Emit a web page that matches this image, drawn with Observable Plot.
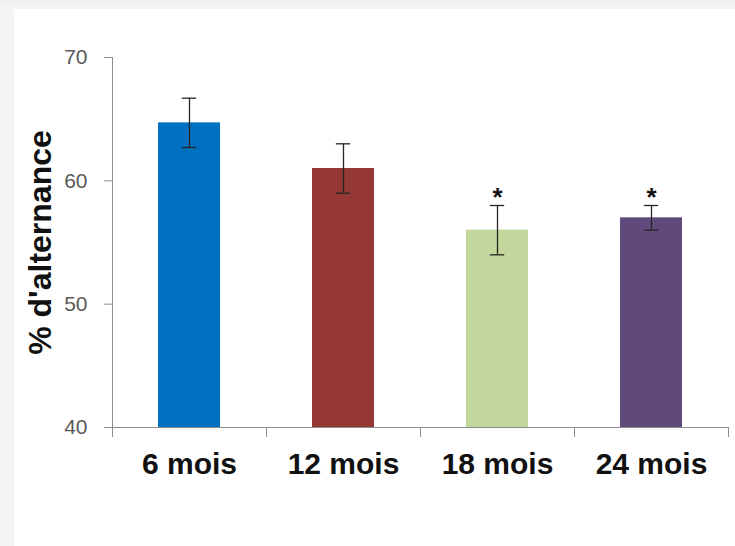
<!DOCTYPE html>
<html>
<head>
<meta charset="utf-8">
<script src="https://cdn.jsdelivr.net/npm/d3@7"></script>
<script src="https://cdn.jsdelivr.net/npm/@observablehq/plot@0.6"></script>
<style>
  html, body { margin: 0; padding: 0; background: #f3f3f3; }
  #wrap { width: 735px; height: 546px; box-sizing: border-box; padding: 9px 0 0 14px;
          background: linear-gradient(to bottom, #eeeeee 0px, #f4f4f4 9px, #f4f4f4 100%); overflow: hidden; }
  #chart svg { background: #ffffff; display: block; }
</style>
</head>
<body>
<div id="wrap"><div id="chart"></div></div>
<script>
const categories = ["6 mois", "12 mois", "18 mois", "24 mois"];
const values = [64.7, 61, 56, 57];
const errors = [2, 2, 2, 1];
const significant = [false, false, true, true];
const barColors = ["#0070C0", "#953735", "#C3D69B", "#604A7B"];
const yTicks = [40, 50, 60, 70];
const yLabel = "% d'alternance";
const starLabel = "*";

const data = categories.map((c, i) => ({cat: c, value: values[i], err: errors[i], sig: significant[i]}));

const W = 721, H = 537;
const mL = 98, mR = 7, mT = 48, mB = 119;
const step = (W - mL - mR) / categories.length;
const bandwidth = step * 0.4;
const capInset = (bandwidth - 14) / 2;
const frameH = H - mT - mB;
const font = "'Liberation Sans', Arial, sans-serif";

const chart = Plot.plot({
  width: W,
  height: H,
  marginLeft: mL,
  marginRight: mR,
  marginTop: mT,
  marginBottom: mB,
  style: {fontFamily: font, background: "#ffffff"},
  x: {domain: categories, paddingInner: 0.6, paddingOuter: 0.3, axis: null, label: null},
  y: {domain: [40, 70], axis: null, label: null},
  color: {domain: categories, range: barColors},
  marks: [
    Plot.barY(data, {x: "cat", y1: 40, y2: "value", fill: "cat"}),
    Plot.ruleX(data, {x: "cat", y1: d => d.value - d.err, y2: d => d.value + d.err, stroke: "#262626", strokeWidth: 1.3}),
    Plot.tickY(data, {x: "cat", y: d => d.value + d.err, stroke: "#262626", strokeWidth: 1.3, insetLeft: capInset, insetRight: capInset}),
    Plot.tickY(data, {x: "cat", y: d => d.value - d.err, stroke: "#262626", strokeWidth: 1.3, insetLeft: capInset, insetRight: capInset}),
    Plot.text(data.filter(d => d.sig), {x: "cat", y: d => d.value + d.err, text: () => starLabel, fontSize: 26, fontWeight: "bold", fill: "#111", lineAnchor: "middle", dy: -8}),
    Plot.frame({anchor: "left", stroke: "#8e8e8e"}),
    Plot.ruleY([40], {stroke: "#8e8e8e"}),
    Plot.ruleX(categories, {x: d => d, dx: -step / 2, insetTop: frameH, insetBottom: -10, stroke: "#8e8e8e"}),
    Plot.ruleX(categories.slice(-1), {x: d => d, dx: step / 2, insetTop: frameH, insetBottom: -10, stroke: "#8e8e8e"}),
    Plot.axisY({ticks: yTicks, label: null, tickSize: 8, tickPadding: 17, fontSize: 21, stroke: "#8e8e8e", fill: "#595959", tickFormat: d => String(d)}),
    Plot.axisX({label: null, tickSize: 0, tickPadding: 25, fontSize: 30, fontWeight: "bold", fill: "#111"}),
    Plot.text([yLabel], {frameAnchor: "left", text: d => d, rotate: -90, dx: -72, fontSize: 32, fontWeight: "bold", fill: "#111", lineAnchor: "middle", textAnchor: "middle"})
  ]
});
document.getElementById("chart").appendChild(chart);
</script>
</body>
</html>
